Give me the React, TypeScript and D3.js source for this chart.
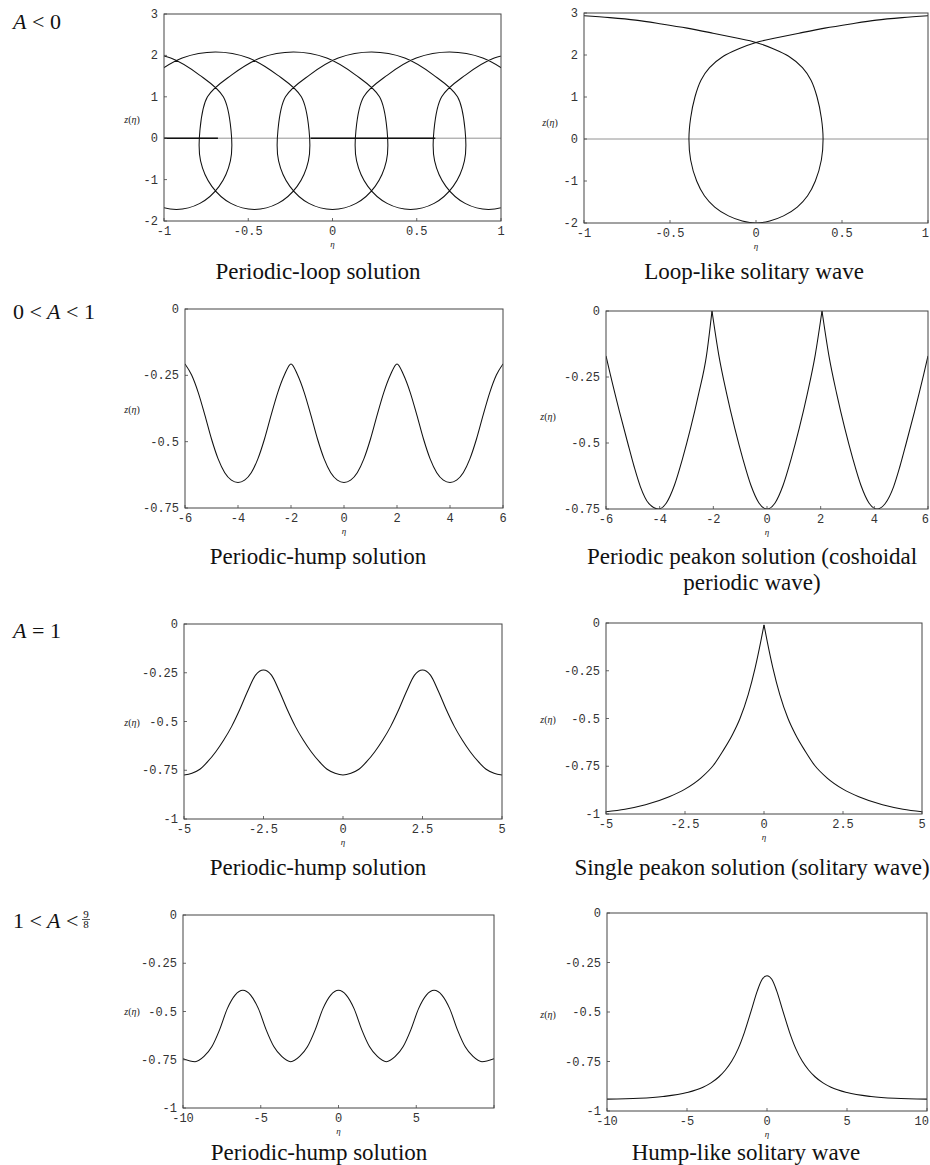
import React from 'react';
import * as d3 from 'd3';

type Pt = [number, number];

// ---------- Data ----------
// Panel 1: periodic-loop solution (parametric curve, traversal order)
const periodicLoop: Pt[] = [
  [-1.158, 2.08], [-0.96, 1.935], [-0.789, 1.524], [-0.648, 1.0], [-0.602, 0.18], [-0.606, -0.547], [-0.673, -1.164], [-0.787, -1.575], [-0.926, -1.72],
  [-1.066, -1.575], [-1.179, -1.164], [-1.246, -0.547], [-1.25, 0.18], [-1.205, 1.0], [-1.063, 1.524], [-0.892, 1.935], [-0.695, 2.08],
  [-0.497, 1.935], [-0.326, 1.524], [-0.185, 1.0], [-0.139, 0.18], [-0.143, -0.547], [-0.21, -1.164], [-0.324, -1.575], [-0.463, -1.72],
  [-0.603, -1.575], [-0.716, -1.164], [-0.783, -0.547], [-0.787, 0.18], [-0.742, 1.0], [-0.6, 1.524], [-0.429, 1.935], [-0.232, 2.08],
  [-0.034, 1.935], [0.138, 1.524], [0.279, 1.0], [0.324, 0.18], [0.32, -0.547], [0.253, -1.164], [0.14, -1.575], [0, -1.72],
  [-0.14, -1.575], [-0.253, -1.164], [-0.32, -0.547], [-0.324, 0.18], [-0.279, 1.0], [-0.137, 1.524], [0.034, 1.935], [0.232, 2.08],
  [0.429, 1.935], [0.6, 1.524], [0.742, 1.0], [0.787, 0.18], [0.783, -0.547], [0.716, -1.164], [0.603, -1.575], [0.463, -1.72],
  [0.324, -1.575], [0.21, -1.164], [0.143, -0.547], [0.139, 0.18], [0.185, 1.0], [0.326, 1.524], [0.497, 1.935], [0.695, 2.08],
  [0.892, 1.935], [1.063, 1.524], [1.205, 1.0], [1.25, 0.18], [1.246, -0.547], [1.179, -1.164], [1.066, -1.575], [0.926, -1.72],
  [0.787, -1.575], [0.673, -1.164], [0.606, -0.547], [0.602, 0.18], [0.648, 1.0], [0.789, 1.524], [0.96, 1.935], [1.158, 2.08],
];
const periodicLoopHeavyZero: Pt[] = [[-1, -0.68], [-0.13, 0.61]];

// Panel 2: loop-like solitary wave (parametric)
const loopSolitary: Pt[] = [
  [-1.0, 2.935], [-0.85, 2.89], [-0.7, 2.83], [-0.55, 2.74], [-0.4, 2.64], [-0.25, 2.52], [-0.12, 2.41], [0, 2.3],
  [0.1, 2.15], [0.19, 1.97], [0.27, 1.7], [0.32, 1.4], [0.355, 1.0], [0.38, 0.5], [0.39, 0], [0.38, -0.5],
  [0.345, -1.0], [0.3, -1.35], [0.24, -1.62], [0.16, -1.83], [0.08, -1.95], [0, -2.0],
  [-0.08, -1.95], [-0.16, -1.83], [-0.24, -1.62], [-0.3, -1.35], [-0.345, -1.0], [-0.38, -0.5], [-0.39, 0],
  [-0.38, 0.5], [-0.355, 1.0], [-0.32, 1.4], [-0.27, 1.7], [-0.19, 1.97], [-0.1, 2.15], [0, 2.3],
  [0.12, 2.41], [0.25, 2.52], [0.4, 2.64], [0.55, 2.74], [0.7, 2.83], [0.85, 2.89], [1.0, 2.935],
];

// Panel 3: periodic-hump solution, 0 < A < 1
const humpA: Pt[] = [
  [-6, -0.207], [-5.75, -0.249], [-5.5, -0.315], [-5.25, -0.4], [-5, -0.49], [-4.75, -0.565], [-4.5, -0.617], [-4.25, -0.645], [-4, -0.654],
  [-3.75, -0.645], [-3.5, -0.617], [-3.25, -0.565], [-3, -0.49], [-2.75, -0.4], [-2.5, -0.315], [-2.25, -0.249], [-2, -0.207],
  [-1.75, -0.249], [-1.5, -0.315], [-1.25, -0.4], [-1, -0.49], [-0.75, -0.565], [-0.5, -0.617], [-0.25, -0.645], [0, -0.654],
  [0.25, -0.645], [0.5, -0.617], [0.75, -0.565], [1, -0.49], [1.25, -0.4], [1.5, -0.315], [1.75, -0.249], [2, -0.207],
  [2.25, -0.249], [2.5, -0.315], [2.75, -0.4], [3, -0.49], [3.25, -0.565], [3.5, -0.617], [3.75, -0.645], [4, -0.654],
  [4.25, -0.645], [4.5, -0.617], [4.75, -0.565], [5, -0.49], [5.25, -0.4], [5.5, -0.315], [5.75, -0.249], [6, -0.207],
];

// Panel 4: periodic peakon (coshoidal) - arches between cusps
const peakonArchLeft: Pt[] = [
  [-6, -0.17], [-5.84, -0.24], [-5.5, -0.38], [-5.19, -0.5], [-4.95, -0.59], [-4.72, -0.665], [-4.4, -0.73], [-4.05, -0.75],
  [-3.75, -0.727], [-3.45, -0.66], [-3.15, -0.56], [-2.85, -0.445], [-2.55, -0.315], [-2.25, -0.165], [-2.05, 0],
];
const peakonArchMid: Pt[] = [
  [-2.05, 0], [-1.8, -0.165], [-1.5, -0.315], [-1.2, -0.445], [-0.9, -0.56], [-0.6, -0.66], [-0.3, -0.727], [0, -0.75],
  [0.3, -0.727], [0.6, -0.66], [0.9, -0.56], [1.2, -0.445], [1.5, -0.315], [1.8, -0.165], [2.05, 0],
];
const peakonArchRight: Pt[] = [
  [2.05, 0], [2.3, -0.165], [2.6, -0.315], [2.9, -0.445], [3.2, -0.56], [3.5, -0.66], [3.8, -0.727], [4.1, -0.75],
  [4.4, -0.73], [4.72, -0.665], [4.95, -0.59], [5.19, -0.5], [5.5, -0.38], [5.84, -0.24], [6, -0.17],
];

// Panel 5: periodic-hump solution, A = 1
const humpB: Pt[] = [
  [-5, -0.774], [-4.75, -0.765], [-4.5, -0.745], [-4.25, -0.705], [-4, -0.655], [-3.75, -0.595], [-3.5, -0.525], [-3.25, -0.44], [-3, -0.345], [-2.75, -0.262], [-2.5, -0.236],
  [-2.25, -0.262], [-2, -0.345], [-1.75, -0.44], [-1.5, -0.525], [-1.25, -0.595], [-1, -0.655], [-0.75, -0.705], [-0.5, -0.745], [-0.25, -0.765], [0, -0.774],
  [0.25, -0.765], [0.5, -0.745], [0.75, -0.705], [1, -0.655], [1.25, -0.595], [1.5, -0.525], [1.75, -0.44], [2, -0.345], [2.25, -0.262], [2.5, -0.236],
  [2.75, -0.262], [3, -0.345], [3.25, -0.44], [3.5, -0.525], [3.75, -0.595], [4, -0.655], [4.25, -0.705], [4.5, -0.745], [4.75, -0.765], [5, -0.774],
];

// Panel 6: single peakon (cusp at 0)
const peakonLeft: Pt[] = [
  [-5, -0.988], [-4.4, -0.975], [-3.75, -0.952], [-3, -0.91], [-2.5, -0.87], [-2, -0.812], [-1.6, -0.745],
  [-1.3, -0.67], [-1, -0.585], [-0.76, -0.5], [-0.5, -0.375], [-0.28, -0.235], [-0.1, -0.095], [0, -0.01],
];
const peakonRight: Pt[] = [
  [0, -0.01], [0.1, -0.095], [0.28, -0.235], [0.5, -0.375], [0.76, -0.5], [1, -0.585], [1.3, -0.67],
  [1.6, -0.745], [2, -0.812], [2.5, -0.87], [3, -0.91], [3.75, -0.952], [4.4, -0.975], [5, -0.988],
];

// Panel 7: periodic-hump solution, 1 < A < 9/8
const humpC: Pt[] = [
  [-10, -0.745], [-9.225, -0.76], [-8.65, -0.733], [-8.15, -0.683], [-7.65, -0.595], [-7.15, -0.485], [-6.65, -0.415], [-6.15, -0.39],
  [-5.65, -0.415], [-5.15, -0.485], [-4.65, -0.595], [-4.15, -0.683], [-3.65, -0.733], [-3.075, -0.76],
  [-2.5, -0.733], [-2, -0.683], [-1.5, -0.595], [-1, -0.485], [-0.5, -0.415], [0, -0.39],
  [0.5, -0.415], [1, -0.485], [1.5, -0.595], [2, -0.683], [2.5, -0.733], [3.075, -0.76],
  [3.65, -0.733], [4.15, -0.683], [4.65, -0.595], [5.15, -0.485], [5.65, -0.415], [6.15, -0.39],
  [6.65, -0.415], [7.15, -0.485], [7.65, -0.595], [8.15, -0.683], [8.65, -0.733], [9.225, -0.76], [10, -0.745],
];

// Panel 8: hump-like solitary wave
const humpSolitary: Pt[] = [
  [-10, -0.94], [-8, -0.936], [-6.5, -0.927], [-5, -0.907], [-4, -0.88], [-3.5, -0.858], [-3, -0.827], [-2.6, -0.793], [-2.2, -0.748],
  [-1.8, -0.685], [-1.4, -0.6], [-1, -0.497], [-0.6, -0.392], [-0.3, -0.335], [0, -0.317],
  [0.3, -0.335], [0.6, -0.392], [1, -0.497], [1.4, -0.6], [1.8, -0.685], [2.2, -0.748], [2.6, -0.793], [3, -0.827],
  [3.5, -0.858], [4, -0.88], [5, -0.907], [6.5, -0.927], [8, -0.936], [10, -0.94],
];

// Ticks
const ticksLoopX = [-1, -0.5, 0, 0.5, 1];
const ticksLoopXLabels = ['-1', '-0.5', '0', '0.5', '1'];
const ticksLoopY = [3, 2, 1, 0, -1, -2];
const ticksLoopYLabels = ['3', '2', '1', '0', '-1', '-2'];
const ticks6X = [-6, -4, -2, 0, 2, 4, 6];
const ticks6XLabels = ['-6', '-4', '-2', '0', '2', '4', '6'];
const ticks075Y = [0, -0.25, -0.5, -0.75];
const ticks075YLabels = ['0', '-0.25', '-0.5', '-0.75'];
const ticks5X = [-5, -2.5, 0, 2.5, 5];
const ticks5XLabels = ['-5', '-2.5', '0', '2.5', '5'];
const ticks1Y = [0, -0.25, -0.5, -0.75, -1];
const ticks1YLabels = ['0', '-0.25', '-0.5', '-0.75', '-1'];
const ticks10X = [-10, -5, 0, 5, 10];
const ticks10XLabels = ['-10', '-5', '0', '5', '10'];
const ticks10XLabelsLeft = ['-10', '-5', '0', '5', ''];

const rowLabels = ['A < 0', '0 < A < 1', 'A = 1', '1 < A < 9/8'];
const captions = [
  'Periodic-loop solution', 'Loop-like solitary wave',
  'Periodic-hump solution', 'Periodic peakon solution (coshoidal', 'periodic wave)',
  'Periodic-hump solution', 'Single peakon solution (solitary wave)',
  'Periodic-hump solution', 'Hump-like solitary wave',
];

// ---------- Layout ----------
const SERIF = '"Liberation Serif", "Times New Roman", serif';
const MONO = '"Liberation Mono", "Courier New", monospace';
const PAGE_W = 930;

interface PanelCfg {
  id: string;
  box: [number, number, number, number];
  xDomain: [number, number];
  yDomain: [number, number];
  xTicks: number[];
  xLabels: string[];
  yTicks: number[];
  yLabels: string[];
  series: Pt[][];
  parametric?: boolean;
  zeroLine?: boolean;
  heavyZero?: Pt[];
  zPos: [number, number];
}

const panels: PanelCfg[] = [
  { id: 'p1', box: [164, 501, 14, 221], xDomain: [-1, 1], yDomain: [-2, 3], xTicks: ticksLoopX, xLabels: ticksLoopXLabels, yTicks: ticksLoopY, yLabels: ticksLoopYLabels, series: [periodicLoop], parametric: true, zeroLine: true, heavyZero: periodicLoopHeavyZero, zPos: [132, 120] },
  { id: 'p2', box: [584, 928, 13, 223], xDomain: [-1, 1], yDomain: [-2, 3], xTicks: ticksLoopX, xLabels: ticksLoopXLabels, yTicks: ticksLoopY, yLabels: ticksLoopYLabels, series: [loopSolitary], parametric: true, zeroLine: true, zPos: [550, 123] },
  { id: 'p3', box: [185, 503, 309, 508], xDomain: [-6, 6], yDomain: [-0.75, 0], xTicks: ticks6X, xLabels: ticks6XLabels, yTicks: ticks075Y, yLabels: ticks075YLabels, series: [humpA], zPos: [132, 410] },
  { id: 'p4', box: [606, 928, 311, 509], xDomain: [-6, 6], yDomain: [-0.75, 0], xTicks: ticks6X, xLabels: ticks6XLabels, yTicks: ticks075Y, yLabels: ticks075YLabels, series: [peakonArchLeft, peakonArchMid, peakonArchRight], zPos: [548, 417] },
  { id: 'p5', box: [184, 502, 624, 819], xDomain: [-5, 5], yDomain: [-1, 0], xTicks: ticks5X, xLabels: ticks5XLabels, yTicks: ticks1Y, yLabels: ticks1YLabels, series: [humpB], zPos: [132, 723] },
  { id: 'p6', box: [606, 922, 623, 814], xDomain: [-5, 5], yDomain: [-1, 0], xTicks: ticks5X, xLabels: ticks5XLabels, yTicks: ticks1Y, yLabels: ticks1YLabels, series: [peakonLeft, peakonRight], zPos: [548, 720] },
  { id: 'p7', box: [183, 494, 915, 1108], xDomain: [-10, 10], yDomain: [-1, 0], xTicks: ticks10X, xLabels: ticks10XLabelsLeft, yTicks: ticks1Y, yLabels: ticks1YLabels, series: [humpC], zPos: [132, 1012] },
  { id: 'p8', box: [607, 927, 913, 1111], xDomain: [-10, 10], yDomain: [-1, 0], xTicks: ticks10X, xLabels: ticks10XLabels, yTicks: ticks1Y, yLabels: ticks1YLabels, series: [humpSolitary], zPos: [548, 1015] },
];

const TICK_FONT = 12;
const CHAR_W = TICK_FONT * 0.6;

function Panel({ cfg }: { cfg: PanelCfg }) {
  const [l, r, t, b] = cfg.box;
  const x = d3.scaleLinear().domain(cfg.xDomain).range([l, r]);
  const y = d3.scaleLinear().domain(cfg.yDomain).range([b, t]);
  const line = d3
    .line<Pt>()
    .x((d) => x(d[0]))
    .y((d) => y(d[1]))
    .curve(cfg.parametric ? d3.curveCatmullRom.alpha(0.5) : d3.curveMonotoneX);
  const clipId = `clip-${cfg.id}`;
  const xMid = (l + r) / 2;
  return (
    <g>
      <defs>
        <clipPath id={clipId}>
          <rect x={l} y={t} width={r - l} height={b - t} />
        </clipPath>
      </defs>
      {cfg.zeroLine && (
        <line x1={x(cfg.xDomain[0])} x2={x(cfg.xDomain[1])} y1={y(0)} y2={y(0)} stroke="#777" strokeWidth={0.8} />
      )}
      {cfg.heavyZero &&
        cfg.heavyZero.map((s, i) => (
          <line key={i} x1={x(s[0])} x2={x(s[1])} y1={y(0)} y2={y(0)} stroke="#111" strokeWidth={1.4} />
        ))}
      <g clipPath={`url(#${clipId})`}>
        {cfg.series.map((s, i) => (
          <path key={i} d={line(s) || ''} fill="none" stroke="#111" strokeWidth={1.05} strokeLinejoin="round" />
        ))}
      </g>
      <rect x={l} y={t} width={r - l} height={b - t} fill="none" stroke="#444" strokeWidth={1} />
      {cfg.xTicks.map((v, i) => {
        const label = cfg.xLabels[i];
        const px = x(v);
        const w = label.length * CHAR_W;
        const overflow = px + w / 2 > PAGE_W - 1;
        return (
          <g key={`xt${i}`}>
            <line x1={px} x2={px} y1={b} y2={b - 3} stroke="#444" strokeWidth={0.8} />
            {label && (
              <text
                x={overflow ? PAGE_W - 1 : px}
                y={b + 14}
                textAnchor={overflow ? 'end' : 'middle'}
                fontFamily={MONO}
                fontSize={TICK_FONT}
                fill="#333"
              >
                {label}
              </text>
            )}
          </g>
        );
      })}
      {cfg.yTicks.map((v, i) => (
        <g key={`yt${i}`}>
          <line x1={l} x2={l + 3} y1={y(v)} y2={y(v)} stroke="#444" strokeWidth={0.8} />
          <text x={l - 6} y={y(v) + 4} textAnchor="end" fontFamily={MONO} fontSize={TICK_FONT} fill="#333">
            {cfg.yLabels[i]}
          </text>
        </g>
      ))}
      <text x={cfg.zPos[0]} y={cfg.zPos[1] + 3} textAnchor="middle" fontFamily={SERIF} fontSize={10} fill="#222">
        <tspan fontStyle="italic">z</tspan>(<tspan fontStyle="italic">η</tspan>)
      </text>
      <text x={xMid} y={b + 26} textAnchor="middle" fontFamily={SERIF} fontSize={9} fontStyle="italic" fill="#222">
        η
      </text>
    </g>
  );
}

function RowLabel({ text, x, y }: { text: string; x: number; y: number }) {
  const parts = text.split(' ');
  const hasFrac = parts[parts.length - 1].includes('/');
  const main = hasFrac ? parts.slice(0, -1) : parts;
  const frac = hasFrac ? parts[parts.length - 1].split('/') : null;
  const fx = 86;
  return (
    <g>
      <text x={x} y={y} fontFamily={SERIF} fontSize={22} fill="#111">
        {main.map((p, i) => (
          <tspan key={i} fontStyle={p === 'A' ? 'italic' : 'normal'}>
            {(i > 0 ? ' ' : '') + p}
          </tspan>
        ))}
      </text>
      {frac && (
        <g>
          <text x={fx} y={y - 10} textAnchor="middle" fontFamily={SERIF} fontSize={11} fill="#111">
            {frac[0]}
          </text>
          <line x1={fx - 4} x2={fx + 4} y1={y - 8.5} y2={y - 8.5} stroke="#111" strokeWidth={0.7} />
          <text x={fx} y={y} textAnchor="middle" fontFamily={SERIF} fontSize={11} fill="#111">
            {frac[1]}
          </text>
        </g>
      )}
    </g>
  );
}

const rowLabelPos: [number, number][] = [[13, 29], [13, 319], [13, 638], [13, 928]];
const captionPos: [number, number][] = [
  [318, 279], [754, 279],
  [318, 564], [752, 564], [752, 590],
  [318, 875], [752, 875],
  [319, 1160], [746, 1160],
];

export default function App() {
  return (
    <svg
      width={930}
      height={1165}
      viewBox="0 0 930 1165"
      style={{ position: 'absolute', left: 0, top: 0, background: '#fff' }}
    >
      <rect x={0} y={0} width={930} height={1165} fill="#fff" />
      {panels.map((p) => (
        <Panel key={p.id} cfg={p} />
      ))}
      {rowLabels.map((t, i) => (
        <RowLabel key={i} text={t} x={rowLabelPos[i][0]} y={rowLabelPos[i][1]} />
      ))}
      {captions.map((c, i) => (
        <text key={i} x={captionPos[i][0]} y={captionPos[i][1]} textAnchor="middle" fontFamily={SERIF} fontSize={23} fill="#111">
          {c}
        </text>
      ))}
    </svg>
  );
}
